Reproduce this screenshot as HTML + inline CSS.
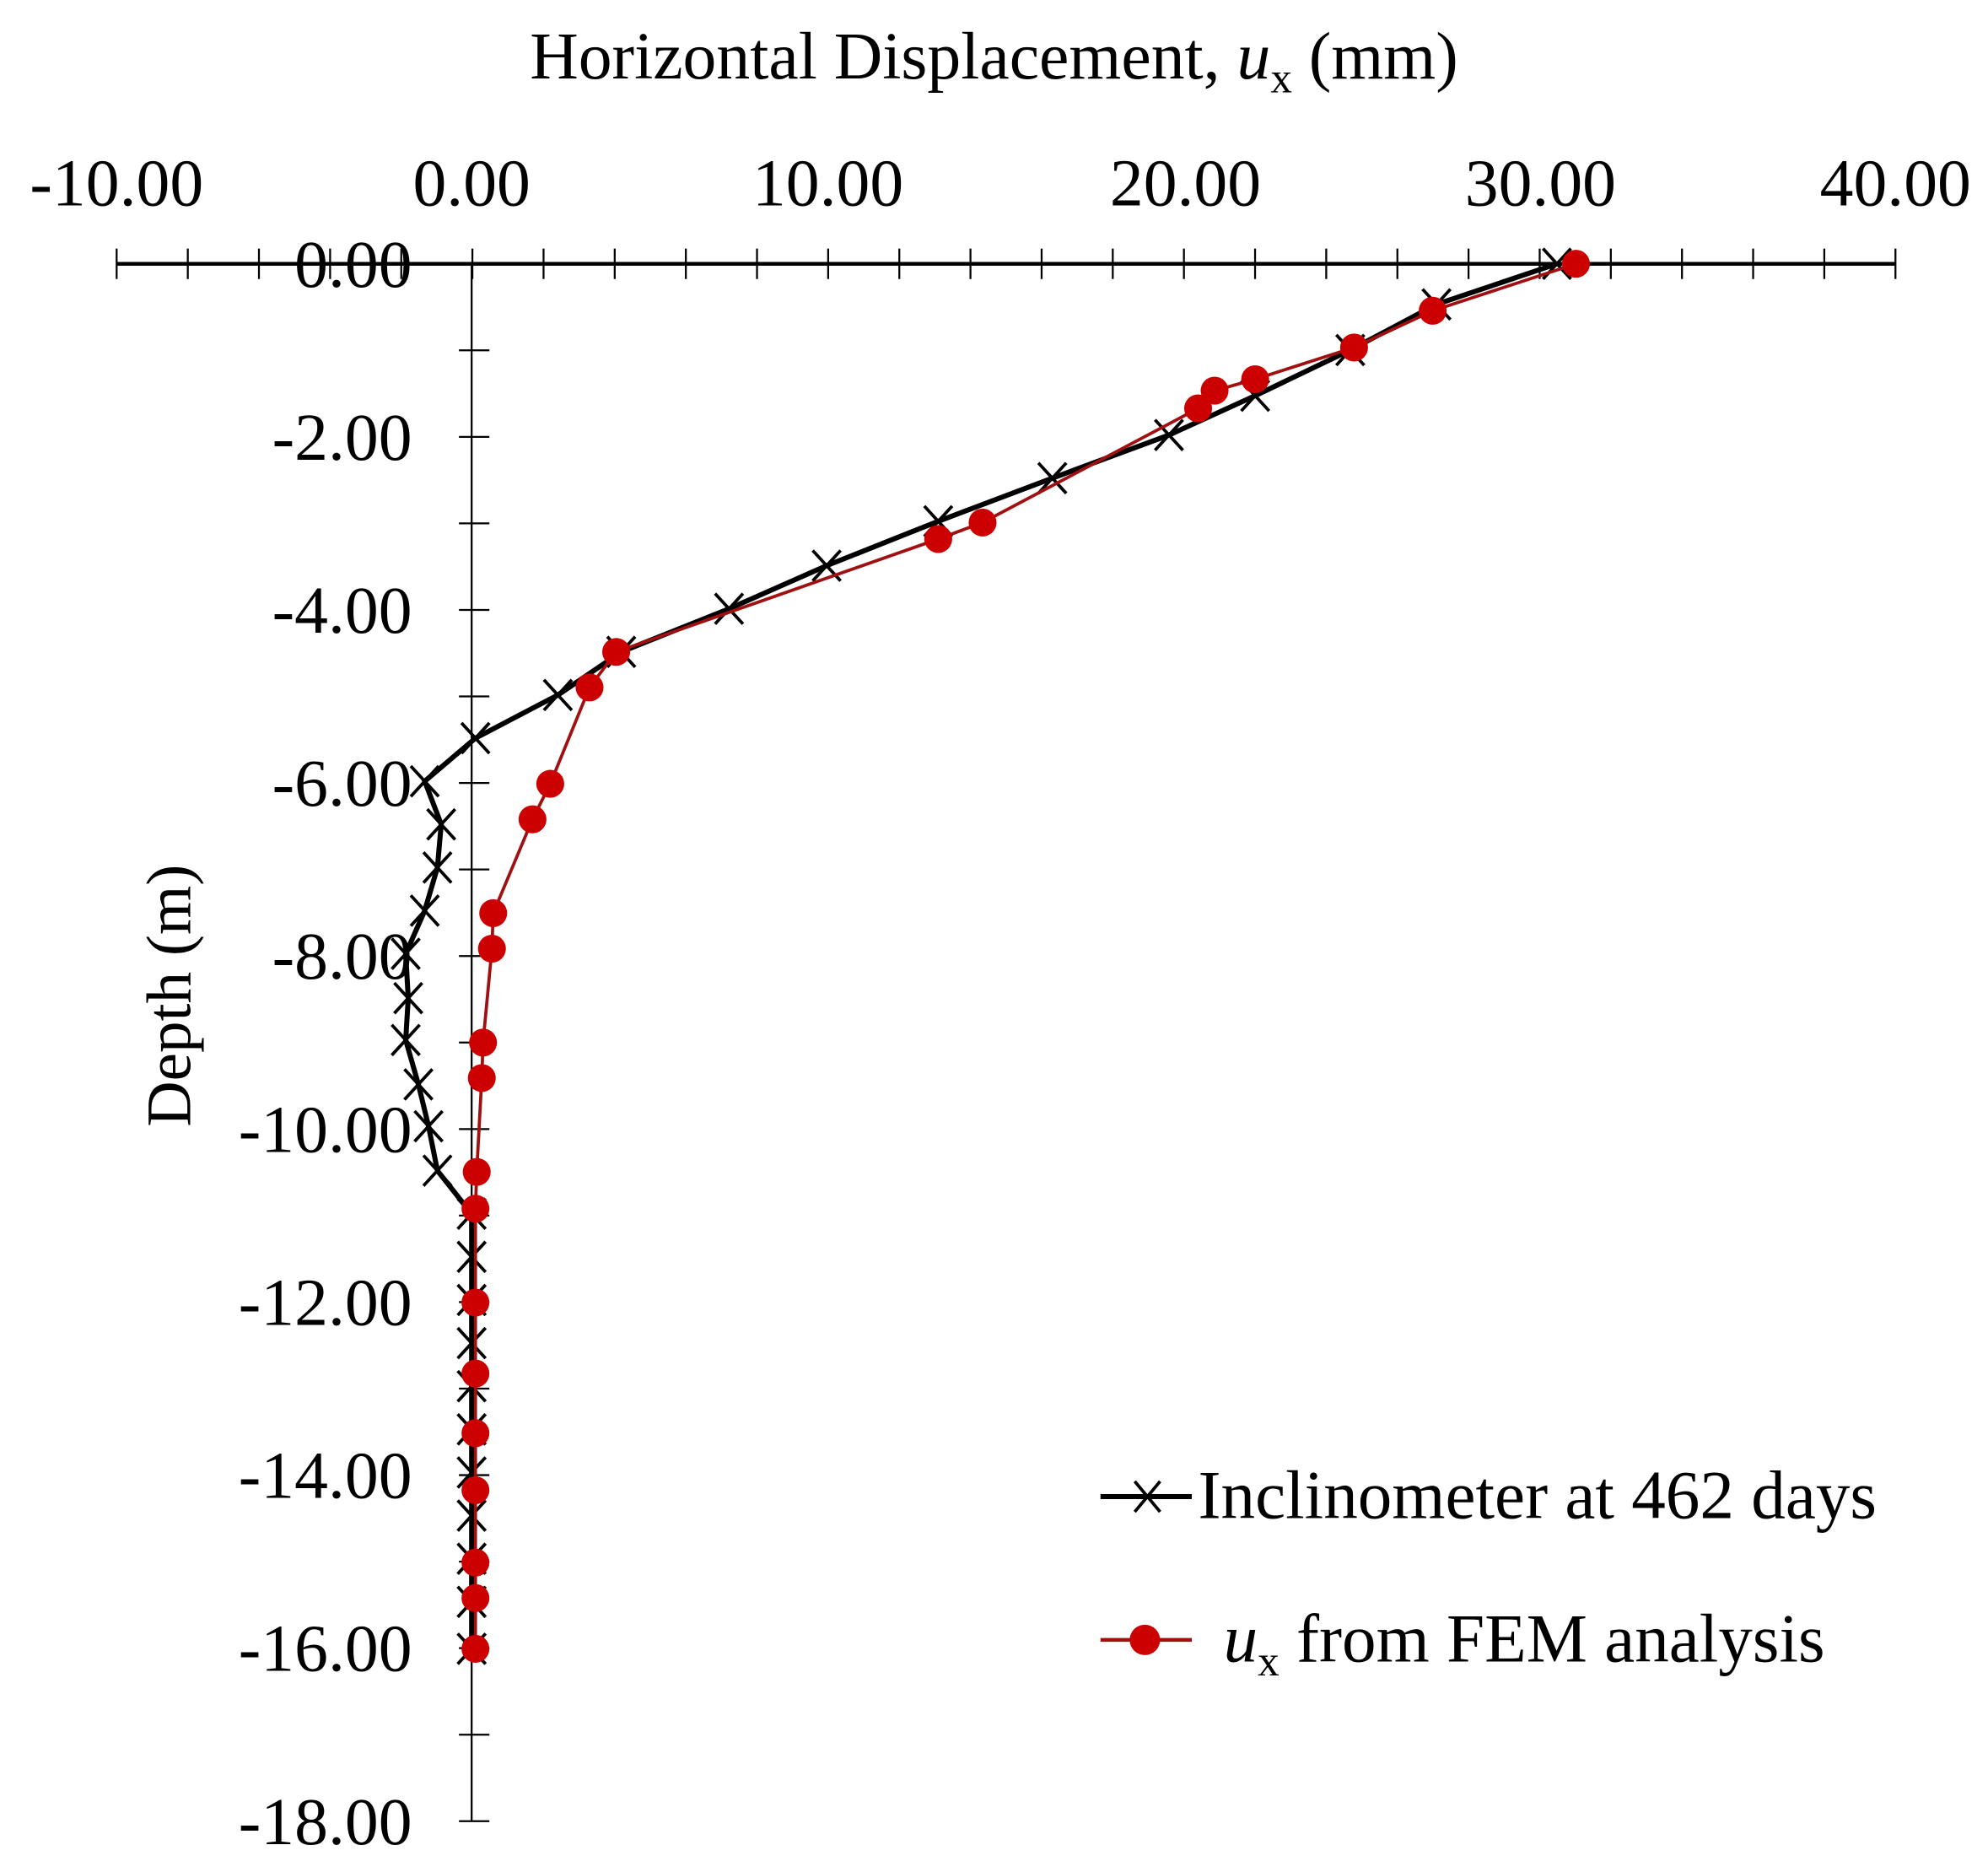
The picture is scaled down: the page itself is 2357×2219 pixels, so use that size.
<!DOCTYPE html>
<html><head><meta charset="utf-8"><style>
html,body{margin:0;padding:0;background:#fff;}
svg{display:block;}
text{font-family:"Liberation Serif",serif;fill:#000;}
</style></head><body>
<svg width="2357" height="2219" viewBox="0 0 1568 1476" preserveAspectRatio="none" xmlns="http://www.w3.org/2000/svg">
<rect width="1568" height="1476" fill="#fff"/>
<text x="784" y="62" font-size="53" text-anchor="middle">Horizontal Displacement, <tspan font-style="italic">u</tspan><tspan font-size="34" dy="11">x</tspan><tspan dy="-11"> (mm)</tspan></text>
<g font-size="53" text-anchor="middle">
<text x="92" y="162">-10.00</text><text x="372" y="162">0.00</text><text x="653" y="162">10.00</text>
<text x="935" y="162">20.00</text><text x="1215" y="162">30.00</text><text x="1495" y="162">40.00</text>
</g>
<g stroke="#000" stroke-width="2">
<line x1="92" y1="208" x2="1495" y2="208" stroke-width="3"/>
<line x1="372" y1="208" x2="372" y2="1436" stroke-width="1.5"/>
</g>
<g stroke="#000" stroke-width="1.5" id="xt"></g>
<g stroke="#000" stroke-width="1.5" id="yt"></g>
<g font-size="53" text-anchor="end" id="yl"></g>
<text transform="translate(150,785) rotate(-90)" font-size="50" text-anchor="middle">Depth (m)</text>
<polyline fill="none" stroke="#000" stroke-width="4" points="1228,208 1133,240 1065,276 990,312 922,343 830,377 740,411 652,446 575,480 490,514 440,548 375,582 335,616 348,650 345,684 335,718 320,752 322,787 320,820 330,855 338,888 345,923 372,957 372,1300"/>
<g id="xs" stroke="#000" stroke-width="2.5"></g>
<polyline fill="none" stroke="#a01010" stroke-width="2.5" points="1243,208 1130,245 1068,274 990,299 958,308 945,322 775,412 740,425 486,514 465,542 434,618 420,646 389,720 388,748 381,822 380,850 376,924 375,953 375,1027 375,1083 375,1130 375,1175 375,1232 375,1260 375,1300"/>
<g id="rd" fill="#cc0000"></g>
<line x1="868" y1="1180" x2="940" y2="1180" stroke="#000" stroke-width="4"/>
<path d="M895,1168 L915,1192 M915,1168 L895,1192" stroke="#000" stroke-width="2.5"/>
<text x="945" y="1197" font-size="54">Inclinometer at 462 days</text>
<line x1="868" y1="1293" x2="940" y2="1293" stroke="#a01010" stroke-width="3"/>
<circle cx="903" cy="1293" r="12" fill="#cc0000"/>
<text x="965" y="1310" font-size="54"><tspan font-style="italic">u</tspan><tspan font-size="34" dy="11">x</tspan><tspan dy="-11"> from FEM analysis</tspan></text>
</svg>
<script>
var ns="http://www.w3.org/2000/svg";
function el(p,t,a){var e=document.createElementNS(ns,t);for(var k in a)e.setAttribute(k,a[k]);document.getElementById(p).appendChild(e);return e;}
for(var i=0;i<=25;i++){var x=92+i*1403/25;el("xt","line",{x1:x,y1:196,x2:x,y2:220});}
for(var j=1;j<=18;j++){var y=208+j*68.22;el("yt","line",{x1:362,y1:y,x2:386,y2:y});}
for(var j=0;j<=9;j++){var y=208+j*136.44;var t=el("yl","text",{x:325,y:y+18});t.textContent=(j==0?"0.00":"-"+(2*j).toFixed(2));}
var bx=[[1228,208],[1133,240],[1065,276],[990,312],[922,343],[830,377],[740,411],[652,446],[575,480],[490,514],[440,548],[375,582],[335,616],[348,650],[345,684],[335,718],[320,752],[322,787],[320,820],[330,855],[338,888],[345,923],[372,957],[372,991],[372,1025],[372,1059],[372,1093],[372,1127],[372,1161],[372,1195],[372,1229],[372,1263],[372,1300]];
bx.forEach(function(p){el("xs","path",{d:"M"+(p[0]-11)+","+(p[1]-12)+"L"+(p[0]+11)+","+(p[1]+12)+"M"+(p[0]+11)+","+(p[1]-12)+"L"+(p[0]-11)+","+(p[1]+12)});});
var rp=[[1243,208],[1130,245],[1068,274],[990,299],[958,308],[945,322],[775,412],[740,425],[486,514],[465,542],[434,618],[420,646],[389,720],[388,748],[381,822],[380,850],[376,924],[375,953],[375,1027],[375,1083],[375,1130],[375,1175],[375,1232],[375,1260],[375,1300]];
rp.forEach(function(p){el("rd","circle",{cx:p[0],cy:p[1],r:11});});
</script>
</body></html>
